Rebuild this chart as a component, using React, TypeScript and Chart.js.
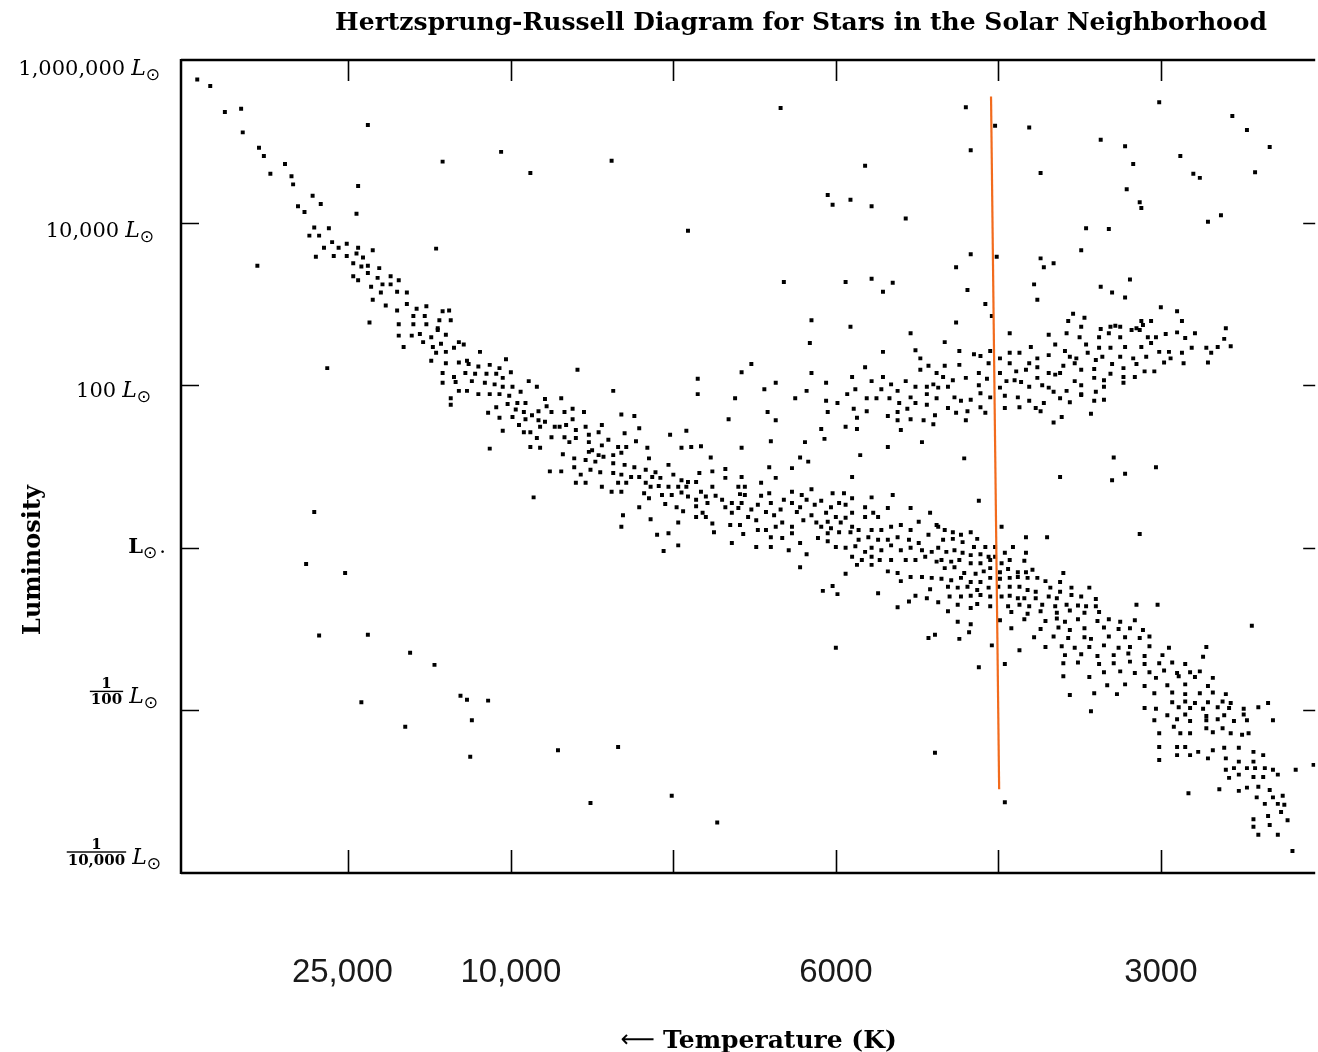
import React, { useEffect, useRef } from "react";
import { Chart, registerables } from "chart.js";

Chart.register(...registerables);

// ---------- text ----------
const titleText = "Hertzsprung-Russell Diagram for Stars in the Solar Neighborhood";
const xAxisTitle = "Temperature (K)";
const xAxisArrow = "⟵";
const yAxisTitle = "Luminosity";
const sunSymbol = "⊙";

// ---------- axes ----------
// x: position along the temperature axis (tick units), y: log10(L / Lsun)
const xRange = [-0.03, 6.95];
const yRange = [-4, 6];
const xTickValues = [1, 2, 3, 4, 5, 6];
const xTickLabels = ["25,000", "10,000", "", "6000", "", "3000"];
const yTickValues = [6, 4, 2, 0, -2, -4];
const yTickLabels = ["1,000,000", "10,000", "100", "", "1/100", "1/10,000"];

// ---------- stars: [x, log10 L] ----------
const upperMainSequence = [
  [0.07,5.76],[0.15,5.68],[0.24,5.36],[0.34,5.40],[0.35,5.11],[0.45,4.92],[0.48,4.82],[0.61,4.72],[0.52,4.60],[0.65,4.57],
  [0.66,4.47],[0.78,4.33],[0.83,4.23],[0.69,4.20],[0.73,4.13],[0.79,3.94],[0.88,3.93],[0.76,3.84],[0.82,3.84],[0.90,3.76],
  [0.85,3.69],[0.94,3.69],[0.99,3.74],[1.06,3.69],[1.15,3.66],[0.80,3.58],[0.91,3.59],[0.99,3.59],[1.05,3.62],[1.09,3.57],
  [1.08,3.46],[1.12,3.47],[1.19,3.44],[1.03,3.50],[1.12,3.38],[1.03,3.34],[1.06,3.29],[1.18,3.32],[1.26,3.34],[1.31,3.29],
  [1.21,3.24],[1.26,3.24],[1.14,3.21],[1.20,3.14],[1.30,3.15],[1.36,3.14],[1.15,3.05],[1.23,2.98],[1.30,2.92],[1.36,3.00],
  [1.42,2.94],[1.48,2.97],[1.58,2.91],[1.62,2.92],[1.40,2.85],[1.47,2.85],[1.56,2.80],[1.63,2.80],[1.13,2.77],[1.31,2.75],
  [1.40,2.75],[1.48,2.75],[1.55,2.70],
  [1.31,2.61],[1.39,2.61],[1.44,2.63],[1.51,2.59],[1.60,2.62],[1.55,2.68],[1.34,2.47],[1.46,2.53],[1.52,2.47],[1.57,2.51],
  [1.60,2.41],[1.54,2.40],[1.65,2.46],[1.68,2.53],[1.71,2.50],[1.81,2.41],[1.51,2.30],[1.60,2.27],[1.68,2.28],[1.73,2.30],
  [1.74,2.26],[1.80,2.23],[1.87,2.25],[1.93,2.21],[1.97,2.32],[1.58,2.15],[1.65,2.10],[1.72,2.15],[1.78,2.14],[1.85,2.14],
  [1.91,2.14],[2.00,2.16],[1.95,2.09],[1.58,2.03],[1.66,2.04],[1.76,2.05],[1.84,2.03],[1.90,2.01],[1.95,1.98],[2.01,1.98],
  [2.11,2.05],[2.16,1.98],[1.68,1.93],[1.73,1.93],[1.80,1.89],[1.87,1.89],[1.93,1.89],[1.99,1.87],[2.06,1.92],[1.63,1.84],
  [1.63,1.76],[1.91,1.73],[1.98,1.77],[2.04,1.78],[2.09,1.78],[2.21,1.83],[2.22,1.74],[1.86,1.66],[1.93,1.60],[2.01,1.61],
  [2.03,1.70],[2.08,1.67],[2.13,1.63],[2.17,1.68],[2.25,1.67],[2.09,1.58],[2.17,1.57],[2.21,1.55],[2.05,1.51],[2.18,1.49],
  [2.27,1.49],[1.95,1.44],[2.08,1.42],[2.12,1.42],[2.16,1.35],[2.25,1.36],[1.87,1.22],[2.12,1.24],[2.18,1.23],[2.24,0.94],
  [2.14,0.62],
];

const brightScattered = [
  [0.44,3.47],[1.06,4.45],[1.05,4.11],[1.12,5.20],[1.58,4.75],[1.54,3.68],[1.94,4.87],[2.12,4.61],[0.87,2.21],
  [3.66,5.41],[2.62,4.76],[4.18,4.70],[3.95,4.34],[3.98,4.22],[4.09,4.28],[4.22,4.20],[4.43,4.05],[3.09,3.90],[3.68,3.27],
  [4.06,3.27],[4.22,3.31],[4.29,3.15],[4.35,3.26],[3.85,2.80],[4.09,2.72],
  [4.80,5.42],[4.98,5.19],[5.19,5.17],[4.83,4.89],[5.99,5.48],[6.44,5.31],[6.53,5.14],[6.67,4.93],[5.63,5.02],[5.78,4.94],
  [5.83,4.72],[6.12,4.82],[5.26,4.61],[6.20,4.60],[6.24,4.55],[6.58,4.62],[5.79,4.41],[5.87,4.25],[5.88,4.18],[5.54,3.93],
  [5.68,3.92],[6.29,4.01],[6.37,4.09],[4.83,3.61],[4.74,3.45],[4.99,3.58],[5.26,3.56],[5.28,3.45],[5.34,3.50],[5.51,3.66],
  [4.81,3.17],[4.92,3.00],[4.96,2.85],[5.22,3.24],[5.24,3.05],[5.63,3.21],[5.70,3.14],[5.78,3.08],[5.81,3.30],[4.74,2.77],
  [5.43,2.79],[5.46,2.88],[5.53,2.83],[6.00,2.96],[6.10,2.91],[6.13,2.79],[5.88,2.79],[5.94,2.79],[5.89,2.74],[5.51,2.72],
  [5.63,2.69],[5.69,2.72],[5.72,2.73],[5.75,2.72],[6.40,2.70],[5.85,2.70],
];

const giantBranch = [
  [2.41,2.19],[2.63,1.93],[3.15,2.08],[3.15,1.89],[3.42,2.16],[3.48,2.26],[3.38,1.84],[3.34,1.58],[3.58,1.67],[3.63,1.57],
  [3.56,1.95],[3.63,2.03],[3.75,1.84],[3.82,1.93],[3.84,2.52],[3.85,2.15],[3.94,2.03],[3.94,1.81],[3.95,1.67],[4.01,1.78],
  [3.91,1.46],[3.93,1.34],[3.60,1.31],[3.81,1.30],[3.42,1.23],[3.17,1.25],[3.11,1.24],[3.05,1.23],[2.98,1.39],[3.08,1.44],
  [3.23,1.11],[3.78,1.11],[3.83,1.06],[3.73,0.98],[3.59,0.99],[3.63,0.86],[3.42,0.87],
  [4.46,2.64],[4.29,2.41],[4.52,2.33],[4.49,2.43],[4.57,2.24],[4.52,2.19],[4.62,2.15],[4.18,2.22],[4.10,2.10],[4.22,2.05],
  [4.29,2.10],[4.34,2.01],[4.43,2.05],[4.12,1.95],[4.07,1.89],[4.19,1.84],[4.25,1.84],[4.28,1.95],[4.33,1.84],[4.38,1.93],
  [4.46,1.85],[4.49,1.98],[4.56,1.98],[4.56,1.89],[4.60,2.01],[4.62,1.84],[4.11,1.71],[4.19,1.68],[4.39,1.78],[4.49,1.78],
  [4.56,1.76],[4.44,1.71],[4.38,1.67],[4.32,1.62],[4.61,1.63],[4.13,1.60],[4.06,1.49],[4.13,1.46],[4.38,1.57],[4.46,1.58],
  [4.54,1.57],[4.60,1.52],[4.40,1.45],[4.32,1.24],[4.53,1.30],[4.15,1.14],[4.10,0.87],
  [4.67,2.53],[5.07,2.64],[5.31,2.62],[5.42,2.64],[5.50,2.59],[5.62,2.59],[5.68,2.64],[5.75,2.59],[5.82,2.68],[5.87,2.68],
  [5.92,2.59],[5.97,2.59],[6.03,2.63],[6.10,2.65],[6.15,2.58],[6.21,2.64],[6.39,2.57],
  [4.76,2.42],[4.85,2.38],[4.89,2.36],[4.95,2.42],[5.01,2.33],[5.07,2.40],[5.13,2.40],[5.20,2.47],[5.24,2.33],[5.31,2.37],
  [5.35,2.50],[5.41,2.42],[5.44,2.35],[5.48,2.33],[5.54,2.50],[5.55,2.40],[5.62,2.46],[5.64,2.35],[5.69,2.46],[5.75,2.35],
  [5.78,2.47],[5.83,2.33],[5.88,2.47],[5.91,2.35],[5.94,2.52],[5.99,2.41],[6.05,2.41],[6.06,2.33],[6.13,2.40],[6.19,2.46],
  [6.28,2.46],[6.31,2.40],[6.35,2.47],[6.43,2.48],
  [4.67,2.24],[4.76,2.25],[4.88,2.15],[4.94,2.27],[5.01,2.15],[5.07,2.27],[5.11,2.17],[5.17,2.19],[5.19,2.27],[5.24,2.22],
  [5.31,2.15],[5.35,2.13],[5.40,2.24],[5.47,2.27],[5.51,2.19],[5.59,2.20],[5.60,2.31],[5.70,2.26],[5.69,2.14],[5.77,2.21],
  [5.85,2.26],[5.90,2.17],[5.96,2.17],[6.02,2.28],[6.14,2.27],[6.29,2.28],
  [4.66,2.10],[4.72,2.06],[4.80,2.09],[4.88,2.00],[4.93,2.08],[5.01,1.97],[5.05,2.05],[5.10,2.06],[5.14,2.04],[5.19,1.98],
  [5.24,2.09],[5.27,2.00],[5.31,1.97],[5.34,1.92],[5.38,2.15],[5.42,1.93],[5.47,2.05],[5.51,2.00],[5.51,1.89],[5.59,2.09],
  [5.60,1.92],[5.65,2.06],[5.65,1.98],[5.77,2.10],[5.77,2.03],[5.84,2.10],
  [4.63,1.97],[4.69,1.98],[4.73,1.85],[4.77,1.81],[4.83,1.82],[4.89,1.90],[4.95,1.85],[5.04,1.87],[5.12,1.85],[5.19,1.81],
  [5.28,1.78],[5.38,1.84],[5.44,1.79],[5.51,1.88],[5.59,1.81],[5.65,1.82],
  [4.69,1.72],[4.74,1.66],[4.81,1.68],[4.89,1.73],[4.92,1.66],[5.04,1.72],[5.13,1.73],[5.23,1.72],[5.26,1.68],[5.57,1.65],
  [4.80,1.57],[5.34,1.54],[5.39,1.61],
  [4.79,1.10],[5.38,0.87],[5.71,1.11],[5.78,0.91],[5.70,0.83],[5.97,0.99],[4.88,0.58],[5.87,0.17],[5.02,0.26],[5.17,0.13],
  [5.30,0.13],
];

const mainSequence = [
  [2.31,1.84],[2.33,1.67],[2.38,1.71],[2.38,1.58],[2.34,1.51],[2.30,1.49],[2.45,1.67],[2.46,1.49],[2.40,1.45],[2.33,1.36],
  [2.36,1.30],[2.40,1.35],[2.48,1.30],[2.48,1.39],[2.54,1.42],[2.56,1.51],[2.60,1.33],[2.68,1.64],[2.76,1.62],[2.79,1.47],
  [2.70,1.41],[2.77,1.31],[2.71,1.24],[2.66,1.24],[2.56,1.26],[2.50,1.20],[2.54,1.14],[2.48,1.18],[2.32,1.15],[2.39,1.10],
  [2.46,1.08],[2.52,1.06],[2.57,1.12],[2.63,1.14],[2.68,1.17],[2.63,1.04],[2.70,1.02],[2.76,0.99],[2.39,0.99],[2.31,0.94],
  [2.49,0.96],[2.55,0.93],[2.63,0.92],[2.68,0.90],[2.74,0.87],[2.79,0.87],[2.43,0.90],[2.40,0.80],[2.46,0.80],[2.56,0.75],
  [2.66,0.80],[2.71,0.80],[2.62,0.69],[2.68,0.69],[2.69,0.40],[2.68,0.26],[2.79,0.50],
  [2.84,1.23],[2.85,1.10],[2.83,0.96],[2.89,0.93],[2.87,0.87],[2.83,0.80],[2.86,0.75],[2.82,0.67],[2.85,0.61],[2.92,0.86],
  [2.97,1.02],[3.00,0.90],[3.05,0.83],[3.09,0.81],[2.91,0.76],[2.97,0.75],[3.03,0.75],[3.08,0.75],[2.93,0.65],[2.99,0.65],
  [3.05,0.68],[3.09,0.63],[3.02,0.50],[3.06,0.45],[2.95,0.54],[2.86,0.35],[3.03,0.31],[2.90,0.16],[2.97,0.18],[3.03,0.03],
  [2.94,-0.04],
  [3.14,0.81],[3.16,0.92],[3.24,0.94],[3.32,0.97],[3.32,0.86],[3.24,0.75],[3.17,0.69],[3.20,0.63],[3.14,0.59],[3.26,0.64],
  [3.30,0.59],[3.14,0.51],[3.21,0.55],[3.18,0.43],[3.14,0.38],[3.20,0.38],[3.24,0.30],[3.32,0.50],[3.36,0.55],[3.36,0.43],
  [3.41,0.66],[3.40,0.75],[3.44,0.75],[3.44,0.65],[3.42,0.55],[3.40,0.49],[3.35,0.28],[3.41,0.28],[3.25,0.19],[3.43,0.17],
  [3.36,0.06],
  [3.54,0.80],[3.54,0.64],[3.52,0.53],[3.48,0.47],[3.46,0.38],[3.51,0.34],[3.52,0.22],[3.57,0.22],[3.59,0.67],[3.60,0.55],
  [3.57,0.44],[3.62,0.40],[3.66,0.47],[3.68,0.59],[3.73,0.55],[3.76,0.44],[3.73,0.69],[3.79,0.65],[3.78,0.50],[3.67,0.31],
  [3.63,0.26],[3.73,0.26],[3.80,0.34],[3.60,0.13],[3.67,0.12],[3.73,0.18],[3.51,0.01],[3.60,0.01],[3.71,-0.03],[3.78,0.06],
  [3.78,-0.24],[3.82,-0.08],
  [3.85,0.72],[3.82,0.59],[3.87,0.53],[3.85,0.40],[3.91,0.58],[3.94,0.43],[3.98,0.67],[3.97,0.50],[4.02,0.55],[4.05,0.67],
  [4.10,0.61],[4.06,0.53],[4.10,0.43],[4.06,0.37],[4.00,0.38],[3.95,0.32],[3.91,0.26],[3.88,0.31],[3.97,0.24],[4.03,0.31],
  [4.10,0.26],[3.89,0.12],[3.95,0.18],[4.02,0.19],[4.09,0.19],[4.14,0.22],[4.18,0.38],[4.22,0.62],[4.18,0.50],[4.23,0.43],
  [4.26,0.38],[4.32,0.49],[4.35,0.65],[4.46,0.49],[4.58,0.43],[4.51,0.32],[4.62,0.28],[4.34,0.26],[4.40,0.28],[4.46,0.22],
  [4.22,0.22],[4.28,0.22],[4.14,0.10],[4.20,0.13],[4.26,0.10],[4.32,0.10],[4.38,0.13],[4.45,0.10],[4.51,0.06],[4.57,0.16],
  [3.95,0.08],[4.00,0.01],[4.06,0.00],[4.12,0.02],[4.18,-0.05],[4.22,0.00],[4.28,-0.03],[4.34,0.03],[4.40,-0.03],[4.46,0.00],
  [4.53,-0.03],[4.59,-0.05],[4.10,-0.11],[4.16,-0.15],[4.22,-0.11],[4.27,-0.15],[4.34,-0.15],[4.43,-0.15],[4.49,-0.15],[4.55,-0.11],
  [4.62,-0.17],[4.13,-0.21],[4.22,-0.21],[4.32,-0.29],[4.38,-0.31],[4.46,-0.36],[4.53,-0.36],[4.59,-0.37],[4.40,-0.41],[4.58,-0.51],
  [4.06,-0.32],[4.26,-0.56],[4.49,-0.59],[4.56,-0.62],[4.45,-0.66],[4.38,-0.73],[3.92,-0.53],[3.98,-0.47],[4.01,-0.57],
  [4.63,0.26],[4.67,0.22],[4.72,0.19],[4.77,0.16],[4.83,0.19],[4.87,0.11],[4.66,0.10],[4.72,0.11],[4.78,0.07],[4.85,0.01],
  [4.92,0.01],[4.98,0.01],[4.63,0.00],[4.68,-0.05],[4.73,-0.03],[4.78,-0.06],[4.83,-0.09],[4.89,-0.08],[4.94,-0.11],[4.98,-0.11],
  [5.04,-0.06],[5.09,0.01],[5.17,-0.06],[4.65,-0.15],[4.71,-0.17],[4.76,-0.15],[4.83,-0.19],[4.89,-0.19],[4.95,-0.15],[5.02,-0.19],
  [5.07,-0.15],[5.16,-0.16],[4.67,-0.25],[4.73,-0.24],[4.79,-0.31],[4.86,-0.32],[4.91,-0.29],[4.95,-0.25],[5.01,-0.30],[5.06,-0.26],
  [5.12,-0.30],[5.17,-0.30],[5.21,-0.27],[4.65,-0.38],[4.71,-0.40],[4.77,-0.37],[4.83,-0.42],[4.89,-0.42],[4.95,-0.37],[5.01,-0.38],
  [5.07,-0.37],[5.12,-0.36],[5.18,-0.37],[5.24,-0.37],[5.29,-0.41],[5.38,-0.42],[5.40,-0.31],[4.69,-0.48],[4.75,-0.49],[4.81,-0.48],
  [4.87,-0.52],[4.94,-0.49],[5.00,-0.48],[5.07,-0.48],[5.13,-0.48],[5.18,-0.52],[5.23,-0.54],[5.32,-0.49],[5.38,-0.54],[5.45,-0.49],
  [5.56,-0.49],[4.70,-0.60],[4.77,-0.60],[4.83,-0.59],[4.89,-0.58],[4.95,-0.60],[5.02,-0.60],[5.07,-0.59],[5.12,-0.62],[5.16,-0.62],
  [5.23,-0.62],[5.31,-0.60],[5.36,-0.62],[5.45,-0.58],[5.51,-0.60],[5.60,-0.63],[4.63,-0.67],[4.75,-0.70],[4.83,-0.74],[4.87,-0.69],
  [4.95,-0.72],[5.06,-0.72],[5.13,-0.70],[5.19,-0.72],[5.27,-0.70],[5.35,-0.72],[5.42,-0.70],[5.49,-0.71],[5.54,-0.72],[5.60,-0.72],
  [5.85,-0.70],[5.98,-0.70],
];

const lowerMainSequence = [
  [4.69,-0.78],[4.75,-0.91],[4.83,-0.94],[4.82,-1.04],[4.76,-1.12],[4.61,-1.07],[4.57,-1.11],[4.96,-1.20],[5.13,-1.26],[4.88,-1.47],
  [5.04,-1.43],[5.40,-1.58],[5.44,-1.81],[5.57,-2.01],[5.59,-1.79],[5.73,-1.80],[6.28,-1.22],[6.26,-1.34],[6.56,-0.96],[6.66,-1.91],
  [4.00,-1.23],
  [5.08,-0.79],[5.18,-0.81],[5.26,-0.78],[5.36,-0.80],[5.44,-0.77],[5.53,-0.80],[5.62,-0.79],
  [5.01,-0.89],[5.16,-0.88],[5.29,-0.90],[5.36,-0.87],[5.41,-0.91],[5.49,-0.88],[5.61,-0.90],[5.68,-0.88],[5.75,-0.91],[5.84,-0.89],
  [5.08,-0.99],[5.26,-1.00],[5.37,-0.98],[5.44,-1.01],[5.53,-0.99],[5.65,-0.98],[5.74,-1.00],[5.81,-0.99],[5.89,-1.01],
  [5.22,-1.10],[5.34,-1.09],[5.43,-1.11],[5.53,-1.10],[5.57,-1.12],[5.68,-1.09],[5.78,-1.10],[5.87,-1.11],[5.93,-1.09],
  [5.29,-1.22],[5.39,-1.21],[5.47,-1.23],[5.56,-1.22],[5.65,-1.20],[5.74,-1.23],[5.81,-1.22],[5.93,-1.21],[6.05,-1.23],
  [5.41,-1.32],[5.51,-1.31],[5.61,-1.33],[5.71,-1.32],[5.80,-1.30],[5.90,-1.33],[6.01,-1.32],
  [5.40,-1.42],[5.49,-1.41],[5.62,-1.43],[5.71,-1.42],[5.81,-1.40],[5.90,-1.43],[5.99,-1.42],[6.07,-1.41],[6.15,-1.43],
  [5.65,-1.53],[5.75,-1.52],[5.84,-1.54],[5.93,-1.53],[6.02,-1.51],[6.10,-1.54],[6.18,-1.53],[6.24,-1.52],
  [5.56,-1.59],[5.97,-1.60],[6.11,-1.58],[6.21,-1.59],[6.32,-1.60],
  [5.67,-1.69],[5.78,-1.68],[5.90,-1.70],[6.04,-1.69],[6.15,-1.68],[6.29,-1.70],
  [5.96,-1.79],[6.07,-1.78],[6.15,-1.80],[6.24,-1.79],[6.32,-1.78],[6.40,-1.80],
  [6.07,-1.90],[6.15,-1.89],[6.21,-1.91],[6.29,-1.90],[6.38,-1.89],[6.43,-1.91],
  [5.90,-1.97],[5.97,-1.98],[6.11,-1.96],[6.18,-1.97],[6.26,-1.98],[6.35,-1.96],[6.42,-1.97],[6.51,-1.98],[6.60,-1.96],
  [6.04,-2.06],[6.15,-2.05],[6.28,-2.07],[6.39,-2.06],[6.51,-2.05],
  [5.96,-2.12],[6.10,-2.11],[6.18,-2.13],[6.28,-2.12],[6.35,-2.11],[6.45,-2.13],[6.53,-2.12],[6.69,-2.12],
];

const redDwarfTail = [
  [5.99,-2.28],[6.08,-2.20],[6.12,-2.28],[6.18,-2.28],[6.28,-2.22],[6.32,-2.27],[6.38,-2.22],[6.43,-2.28],[6.50,-2.30],[6.54,-2.28],
  [5.99,-2.45],[6.10,-2.45],[6.15,-2.45],[6.23,-2.51],[6.32,-2.49],[6.39,-2.46],[6.48,-2.46],[6.57,-2.51],
  [5.99,-2.61],[6.10,-2.55],[6.18,-2.55],[6.29,-2.59],[6.40,-2.59],[6.48,-2.63],[6.57,-2.63],[6.63,-2.55],
  [6.40,-2.73],[6.45,-2.71],[6.53,-2.71],[6.58,-2.71],[6.64,-2.71],[6.69,-2.73],[6.42,-2.83],[6.48,-2.79],[6.57,-2.82],[6.63,-2.82],
  [6.72,-2.79],[6.36,-2.97],[6.48,-2.99],[6.53,-2.95],[6.60,-2.94],[6.67,-2.98],[6.69,-3.07],[6.75,-3.05],[6.59,-3.07],[6.64,-3.15],
  [6.72,-3.15],[6.76,-3.16],[6.66,-3.30],[6.74,-3.25],[6.78,-3.35],[6.57,-3.34],[6.67,-3.41],[6.57,-3.43],[6.60,-3.53],[6.72,-3.53],
];

const faintStars = [
  [0.79,0.44],[0.74,-0.20],[0.98,-0.31],
  [0.82,-1.08],[1.12,-1.07],[1.38,-1.29],[1.53,-1.44],[1.08,-1.90],[1.35,-2.20],[1.69,-1.82],[1.73,-1.87],[1.86,-1.88],
  [1.76,-2.12],[1.75,-2.57],[2.29,-2.49],[2.66,-2.45],[2.49,-3.14],[2.99,-3.05],[3.27,-3.38],[4.61,-2.52],[5.04,-3.13],
  [6.81,-3.73],[6.94,-2.67],[6.83,-2.73],[6.17,-3.02],
];

const markerLine = [[4.955, 5.55], [5.005, -2.97]];

const starGroups = [
  { name: "Upper main sequence", data: upperMainSequence },
  { name: "Bright scattered", data: brightScattered },
  { name: "Giant branch", data: giantBranch },
  { name: "Main sequence", data: mainSequence },
  { name: "Lower main sequence", data: lowerMainSequence },
  { name: "Red dwarf tail", data: redDwarfTail },
  { name: "Faint stars", data: faintStars },
];

// ---------- styling ----------
const SERIF = '"DejaVu Serif", "Liberation Serif", serif';
const SUN_FONT = '17px "DejaVu Sans", sans-serif';
const yLabelBaselineShift = [15, 14, 12, 5, -7, -9];
const yLabelRight = [160, 154, 151, 166, 158, 161];

const toPoints = (arr: number[][]) => arr.map(([x, y]) => ({ x, y }));

const framePlugin = {
  id: "hrFrame",
  afterDraw(chart: any) {
    const { ctx, chartArea, scales } = chart;
    const { left, right, top, bottom } = chartArea;
    const xs = scales.x;
    const ys = scales.y;
    ctx.save();
    ctx.strokeStyle = "#000";
    ctx.fillStyle = "#000";
    ctx.lineCap = "butt";

    // frame
    ctx.lineWidth = 2.5;
    ctx.beginPath();
    ctx.moveTo(left, top); ctx.lineTo(right, top);
    ctx.moveTo(left, bottom); ctx.lineTo(right, bottom);
    ctx.moveTo(left, top - 1); ctx.lineTo(left, bottom + 1);
    ctx.stroke();

    // ticks (inward)
    ctx.lineWidth = 1.6;
    ctx.beginPath();
    xTickValues.forEach((v) => {
      const px = Math.round(xs.getPixelForValue(v)) + 0.5;
      ctx.moveTo(px, top); ctx.lineTo(px, top + 21);
      ctx.moveTo(px, bottom); ctx.lineTo(px, bottom - 23);
    });
    yTickValues.forEach((v) => {
      if (v === yRange[0] || v === yRange[1]) return;
      const py = Math.round(ys.getPixelForValue(v)) + 0.5;
      ctx.moveTo(left, py); ctx.lineTo(left + 18, py);
      ctx.moveTo(right - 12, py); ctx.lineTo(right, py);
    });
    ctx.stroke();

    // title
    ctx.font = `bold 25px ${SERIF}`;
    ctx.textAlign = "center";
    ctx.textBaseline = "alphabetic";
    ctx.fillText(titleText, 801, 30);

    // x tick labels
    ctx.font = '33px "Liberation Sans", Arial, sans-serif';
    ctx.fillStyle = "#1a1a1a";
    ctx.textAlign = "center";
    xTickValues.forEach((v, i) => {
      const lab = xTickLabels[i];
      if (!lab) return;
      const shift = i === 0 ? -6 : 0;
      ctx.fillText(lab, xs.getPixelForValue(v) + shift, 982);
    });
    ctx.fillStyle = "#000";

    // x axis title
    ctx.font = '24px "DejaVu Sans", sans-serif';
    ctx.textAlign = "right";
    ctx.fillText(xAxisArrow, 655, 1047);
    ctx.font = `bold 25px ${SERIF}`;
    ctx.textAlign = "left";
    ctx.fillText(xAxisTitle, 663, 1048);

    // y axis title
    ctx.save();
    ctx.translate(34, 560);
    ctx.rotate(-Math.PI / 2);
    ctx.font = `bold 24px ${SERIF}`;
    ctx.textAlign = "center";
    ctx.textBaseline = "middle";
    ctx.fillText(yAxisTitle, 0, 0);
    ctx.restore();

    // y tick labels
    const widthOf = (text: string, font: string) => { ctx.font = font; return ctx.measureText(text).width; };
    const numFont = `21px ${SERIF}`;
    const lItalic = `italic 22px ${SERIF}`;
    const lBold = `bold 21px ${SERIF}`;
    const fracFont = `bold 15px ${SERIF}`;
    ctx.textAlign = "left";
    ctx.textBaseline = "alphabetic";
    const sunW = widthOf(sunSymbol, SUN_FONT);
    const sunDrop = 5;
    yTickValues.forEach((v, i) => {
      const label = yTickLabels[i];
      const base = ys.getPixelForValue(v) + yLabelBaselineShift[i];
      const rightEdge = yLabelRight[i];
      if (label === "") {
        const lW = widthOf("L", lBold);
        const dotW = widthOf(".", numFont);
        let x = rightEdge - (lW + sunW + 2 + dotW);
        ctx.font = lBold; ctx.fillText("L", x, base); x += lW;
        ctx.font = SUN_FONT; ctx.fillText(sunSymbol, x, base + sunDrop); x += sunW + 2;
        ctx.font = numFont; ctx.fillText(".", x, base);
      } else if (label.includes("/")) {
        const [num, den] = label.split("/");
        const fW = Math.max(widthOf(num, fracFont), widthOf(den, fracFont)) + 2;
        const lW = widthOf("L", lItalic);
        let x = rightEdge - (fW + 6 + lW + sunW);
        const bar = base - 12;
        ctx.font = fracFont;
        ctx.textAlign = "center";
        ctx.fillText(num, x + fW / 2, bar - 3);
        ctx.fillText(den, x + fW / 2, bar + 13);
        ctx.textAlign = "left";
        ctx.fillRect(x, bar - 0.7, fW, 1.4);
        x += fW + 6;
        ctx.font = lItalic; ctx.fillText("L", x, base); x += lW;
        ctx.font = SUN_FONT; ctx.fillText(sunSymbol, x, base + sunDrop);
      } else {
        const nW = widthOf(label, numFont);
        const lW = widthOf("L", lItalic);
        let x = rightEdge - (nW + 6 + lW + sunW);
        ctx.font = numFont; ctx.fillText(label, x, base); x += nW + 6;
        ctx.font = lItalic; ctx.fillText("L", x, base); x += lW;
        ctx.font = SUN_FONT; ctx.fillText(sunSymbol, x, base + sunDrop);
      }
    });

    ctx.restore();
  },
};

export default function App() {
  const canvasRef = useRef<HTMLCanvasElement | null>(null);

  useEffect(() => {
    const canvas = canvasRef.current;
    if (!canvas) return;
    const starDatasets = starGroups.map((g) => ({
      type: "scatter" as const,
      label: g.name,
      data: toPoints(g.data),
      pointStyle: "rect",
      pointRadius: 2.8,
      pointHoverRadius: 2.8,
      backgroundColor: "#000",
      borderColor: "#000",
      borderWidth: 0,
    }));
    const chart = new Chart(canvas, {
      type: "scatter",
      data: {
        datasets: [
          {
            type: "line",
            label: "Marker",
            data: toPoints(markerLine),
            borderColor: "#f26b1d",
            borderWidth: 2.2,
            pointRadius: 0,
            fill: false,
            showLine: true,
          } as any,
          ...starDatasets,
        ],
      },
      options: {
        responsive: false,
        maintainAspectRatio: false,
        animation: false,
        events: [],
        layout: { padding: { left: 181, top: 60, right: 0, bottom: 179 } },
        scales: {
          x: { type: "linear", min: xRange[0], max: xRange[1], display: false },
          y: { type: "linear", min: yRange[0], max: yRange[1], display: false },
        },
        plugins: {
          legend: { display: false },
          tooltip: { enabled: false },
          title: { display: false },
        },
      },
      plugins: [framePlugin],
    });
    return () => chart.destroy();
  }, []);

  return (
    <div style={{ position: "fixed", left: 0, top: 0, width: 1318, height: 1052, background: "#fff" }}>
      <canvas ref={canvasRef} width={1318} height={1052} style={{ display: "block", width: 1318, height: 1052 }} />
    </div>
  );
}
